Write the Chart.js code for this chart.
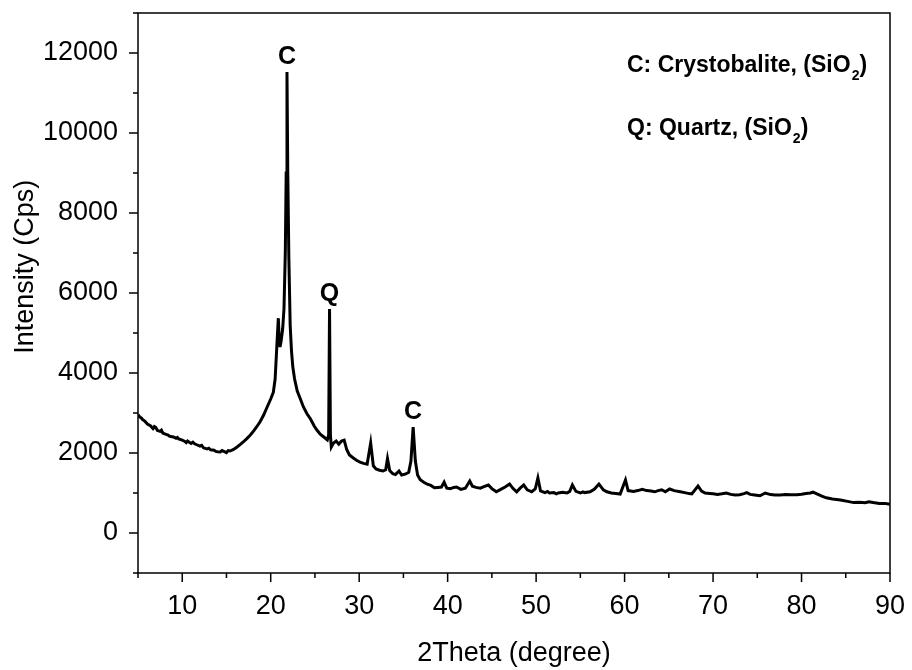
<!DOCTYPE html>
<html>
<head>
<meta charset="utf-8">
<script src="https://cdn.jsdelivr.net/npm/chart.js@4.4.0/dist/chart.umd.min.js"></script>
<style>
    body { margin: 0; background: #fff; }
    #wrap { width: 912px; height: 670px; }
</style>
</head>
<body>
<div id="wrap"><canvas id="xrd-chart" width="912" height="670"></canvas></div>
<script>
// *** DATA ***
var twoTheta = [
    5.0, 5.2, 5.4, 5.5, 5.8, 6.0, 6.1, 6.4, 6.7, 6.85, 7.0, 7.2, 7.5, 7.65, 7.8, 8.1, 8.4, 8.55, 8.7, 9.0, 9.3, 9.45, 9.6,
    10.0, 10.3, 10.45, 10.6, 11.0, 11.2, 11.4, 11.7, 12.0, 12.2, 12.4, 12.8, 13.0, 13.2, 13.6, 13.8, 14.0, 14.3, 14.5, 14.7,
    15.0, 15.2, 15.4, 15.8, 16.2, 16.6, 16.9, 17.3, 17.7, 18.1, 18.4, 18.8, 19.2, 19.6,
    20.0, 20.3, 20.5, 20.7, 20.86, 20.95, 21.05, 21.16, 21.35, 21.5, 21.65, 21.75, 21.84,
    21.93, 22.05, 22.2, 22.35, 22.5, 22.7, 23.0, 23.3, 23.7, 24.1, 24.5, 24.9,
    25.2, 25.6, 26.0, 26.4, 26.55, 26.65, 26.75, 26.85, 27.1, 27.4, 27.7, 28.0, 28.3, 28.6, 28.9,
    29.3, 29.7, 30.1, 30.5, 30.9, 31.3, 31.6, 31.9, 32.3, 32.7, 33.0, 33.2, 33.45, 33.8,
    34.1, 34.5, 34.8, 35.2, 35.6, 35.85, 36.1, 36.35, 36.6, 36.9, 37.3, 37.7, 38.1, 38.5, 38.9,
    39.3, 39.6, 39.9, 40.3, 40.7, 41.0, 41.5, 42.0, 42.5, 42.8, 43.2, 43.7, 44.1, 44.6,
    45.0, 45.5, 46.0, 46.5, 47.0, 47.4, 47.8, 48.2, 48.6, 49.0, 49.5, 49.9,
    50.2, 50.5, 51.0, 51.3, 51.5, 52.0, 52.3, 52.5, 53.0, 53.5, 53.8, 54.1, 54.5,
    55.0, 55.3, 55.5, 56.1, 56.6, 57.1, 57.6, 58.0, 58.5, 59.0, 59.5,
    60.1, 60.4, 61.0, 61.5, 62.0, 62.5, 63.0, 63.4, 63.8, 64.2, 64.6,
    65.1, 65.6, 66.3, 66.8, 67.3, 67.6, 68.3, 68.7, 69.1, 69.6,
    70.0, 70.5, 71.0, 71.5, 72.0, 72.5, 73.0, 73.5, 73.8, 74.2, 74.7,
    75.3, 75.9, 76.5, 77.0, 77.6, 78.2, 78.8, 79.5,
    80.0, 80.5, 81.0, 81.3, 81.8, 82.3, 82.8, 83.5, 84.4,
    85.2, 85.9, 86.5, 87.2, 87.6, 88.1, 88.8, 89.5, 90.0
];
var intensity = [
    2960, 2900, 2870, 2840, 2790, 2740, 2720, 2680, 2610, 2660, 2640, 2560, 2540, 2570, 2500, 2470, 2450, 2420, 2410, 2400, 2370, 2390, 2350,
    2320, 2290, 2260, 2300, 2240, 2270, 2230, 2200, 2170, 2190, 2130, 2100, 2120, 2080, 2070, 2040, 2030, 2025, 2060, 2040,
    2010, 2060, 2050, 2090, 2150, 2220, 2275, 2360, 2450, 2560, 2650, 2780, 2950, 3150,
    3350, 3520, 3850, 4700, 5370, 4900, 4650, 4775, 5100, 5600, 7000, 9000, 11525,
    9000, 6900, 5200, 4550, 4150, 3850, 3550, 3380, 3150, 2980, 2850, 2680,
    2580, 2470, 2400, 2330, 2450, 5600, 2450, 2150, 2250, 2300, 2220, 2300, 2320, 2080, 1950,
    1880, 1820, 1770, 1740, 1720, 2250, 1680, 1600, 1570, 1550, 1580, 1860, 1560, 1480,
    1460, 1550, 1450, 1470, 1520, 1800, 2650, 1800, 1450, 1330, 1270, 1220, 1190, 1130, 1140,
    1150, 1270, 1120, 1110, 1140, 1150, 1090, 1120, 1300, 1170, 1140, 1120, 1160, 1200,
    1110, 1030, 1090, 1150, 1225, 1110, 1030, 1120, 1200, 1080, 1030, 1100,
    1375, 1050, 1010, 1040, 1000, 1010, 980, 1000, 1020, 1000, 1040, 1200, 1040,
    1000, 1030, 1010, 1030, 1100, 1225, 1080, 1030, 1000, 990, 975,
    1325, 1060, 1040, 1060, 1090, 1060, 1050, 1030, 1060, 1080, 1030,
    1100, 1060, 1030, 1010, 985, 975, 1175, 1050, 1000, 990,
    980, 965, 980, 1000, 965, 950, 955, 985, 1010, 965, 950,
    930, 1000, 960, 950, 950, 960, 955, 955,
    970, 990, 1000, 1020, 970, 920, 880, 850, 825,
    790, 760, 770, 755, 780, 760, 740, 735, 720
];
var peakLabels = ['C', 'Q', 'C'];
var peakPositions = [21.84, 26.65, 36.1];
var peakHeights = [11525, 5600, 2650];
var phaseNotes = ['C: Crystobalite, (SiO', 'Q: Quartz, (SiO'];

var fontFamily = '"Liberation Sans", Arial, sans-serif';

// *** FUNCTIONS ***
var frameAndMarks = {
    id: 'frameAndMarks',
    afterDraw: function(chart) {
        var ctx = chart.ctx;
        var area = chart.chartArea;
        var xs = chart.scales.x;
        var ys = chart.scales.y;

        ctx.save();
        ctx.strokeStyle = '#000';
        ctx.lineWidth = 1.5;
        ctx.strokeRect(area.left, area.top, area.right - area.left, area.bottom - area.top);

        // outward ticks, major ones longer
        ctx.beginPath();
        xs.ticks.forEach(function(t) {
            var px = xs.getPixelForValue(t.value);
            var len = t.value % 10 === 0 ? 9 : 5;
            ctx.moveTo(px, area.bottom);
            ctx.lineTo(px, area.bottom + len);
        });
        ys.ticks.forEach(function(t) {
            var py = ys.getPixelForValue(t.value);
            var len = (t.value % 2000 === 0 && t.value >= 0 && t.value <= 12000) ? 9 : 5;
            ctx.moveTo(area.left, py);
            ctx.lineTo(area.left - len, py);
        });
        ctx.stroke();

        // peak letters
        ctx.fillStyle = '#000';
        ctx.font = 'bold 25px ' + fontFamily;
        ctx.textAlign = 'center';
        ctx.textBaseline = 'alphabetic';
        for (var i = 0; i < peakLabels.length; i++) {
            ctx.fillText(peakLabels[i], xs.getPixelForValue(peakPositions[i]), ys.getPixelForValue(peakHeights[i]) - 8);
        }

        // phase notes with subscript 2
        ctx.textAlign = 'left';
        var noteX = area.left + 489;
        var noteY = [area.top + 59, area.top + 122];
        for (var j = 0; j < phaseNotes.length; j++) {
            ctx.font = 'bold 23px ' + fontFamily;
            ctx.fillText(phaseNotes[j], noteX, noteY[j]);
            var w = ctx.measureText(phaseNotes[j]).width;
            ctx.font = 'bold 14px ' + fontFamily;
            ctx.fillText('2', noteX + w + 1, noteY[j] + 8);
            var w2 = ctx.measureText('2').width;
            ctx.font = 'bold 23px ' + fontFamily;
            ctx.fillText(')', noteX + w + w2 + 1, noteY[j]);
        }
        ctx.restore();
    }
};

var xrdChart = new Chart(document.getElementById('xrd-chart'), {
    type: 'scatter',
    data: {
        datasets: [{
            label: 'XRD',
            data: twoTheta.map(function(x, i) { return { x: x, y: intensity[i] }; }),
            showLine: true,
            borderColor: '#000',
            borderWidth: 3,
            pointRadius: 0,
            tension: 0,
            fill: false
        }]
    },
    options: {
        responsive: false,
        animation: false,
        layout: { padding: { top: 13, right: 22, left: 0, bottom: 0 } },
        plugins: {
            legend: { display: false },
            tooltip: { enabled: false }
        },
        scales: {
            x: {
                type: 'linear',
                min: 5,
                max: 90,
                grid: { display: false, drawTicks: false },
                border: { display: false },
                ticks: {
                    stepSize: 5,
                    autoSkip: false,
                    maxRotation: 0,
                    padding: 17,
                    color: '#000',
                    font: { family: fontFamily, size: 27 },
                    callback: function(v) { return v % 10 === 0 ? String(v) : ''; }
                },
                title: {
                    display: true,
                    text: '2Theta (degree)',
                    color: '#000',
                    font: { family: fontFamily, size: 27, lineHeight: 1.2 },
                    padding: { top: 0, bottom: 0 }
                },
                afterFit: function(scale) {
                    scale.height = 97;
                    scale.paddingLeft = 0;
                    scale.paddingRight = 0;
                }
            },
            y: {
                type: 'linear',
                min: -1000,
                max: 13000,
                grid: { display: false, drawTicks: false },
                border: { display: false },
                ticks: {
                    stepSize: 1000,
                    autoSkip: false,
                    padding: 20,
                    color: '#000',
                    font: { family: fontFamily, size: 27 },
                    callback: function(v) { return (v % 2000 === 0 && v >= 0 && v <= 12000) ? String(v) : ''; }
                },
                title: {
                    display: true,
                    text: '       Intensity (Cps)',
                    color: '#000',
                    font: { family: fontFamily, size: 27, lineHeight: 1.2 },
                    padding: { top: 9, bottom: 0 }
                },
                afterFit: function(scale) {
                    scale.width = 138;
                    scale.paddingTop = 0;
                    scale.paddingBottom = 0;
                }
            }
        }
    },
    plugins: [frameAndMarks]
});
</script>
</body>
</html>
